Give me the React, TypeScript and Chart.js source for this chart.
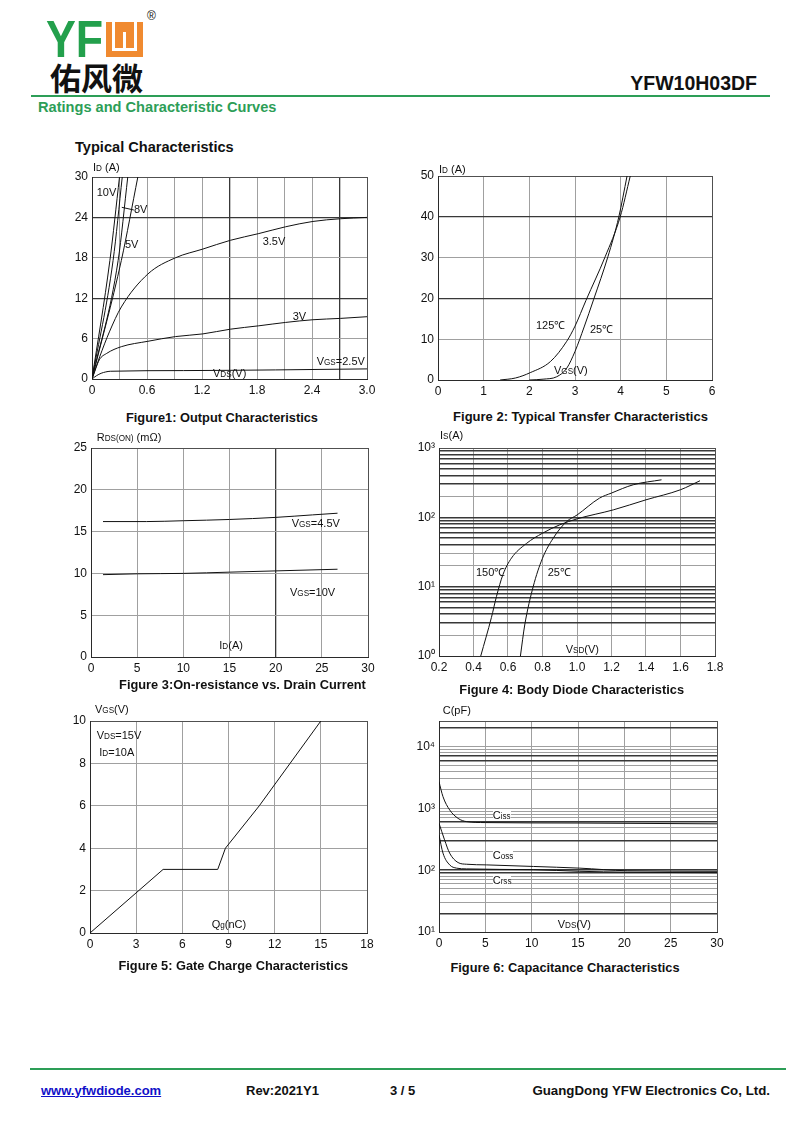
import React, { useEffect, useRef } from 'react';
import { Chart, registerables } from 'chart.js';

Chart.register(...registerables);

const FONT = '"Liberation Sans", Arial, Helvetica, sans-serif';
const CJK = '"Noto Sans CJK SC", "Noto Sans CJK TC", sans-serif';

type Pt = [number, number];

// ---------- Figure 1: Output Characteristics ----------
const f1XTicks = [0, 0.3, 0.6, 0.9, 1.2, 1.5, 1.8, 2.1, 2.4, 2.7, 3.0];
const f1XLabelVals = [0, 0.6, 1.2, 1.8, 2.4, 3.0];
const f1XLabels = ['0', '0.6', '1.2', '1.8', '2.4', '3.0'];
const f1YTicks = [0, 6, 12, 18, 24, 30];
const f1YLabels = ['0', '6', '12', '18', '24', '30'];
const f1XDark = [1.5, 2.7];
const f1YDark = [12, 24];
const f1Vgs10: Pt[] = [[0, 0], [0.195, 17.6], [0.30, 30]];
const f1Vgs8a: Pt[] = [[0, 0], [0.23, 17.6], [0.33, 30]];
const f1Vgs8b: Pt[] = [[0, 0], [0.285, 17.6], [0.39, 30]];
const f1Vgs5: Pt[] = [[0, 0], [0.32, 17.6], [0.50, 30]];
const f1Vgs35: Pt[] = [[0, 0], [0.084, 3.3], [0.19, 7.0], [0.32, 10.7], [0.61, 15.6], [0.91, 18.0], [1.21, 19.3], [1.51, 20.6], [1.82, 21.6], [2.11, 22.6], [2.41, 23.4], [2.71, 23.8], [3.0, 24.0]];
const f1Vgs3: Pt[] = [[0, 0], [0.08, 2.85], [0.16, 3.8], [0.32, 4.8], [0.61, 5.6], [0.91, 6.3], [1.21, 6.7], [1.51, 7.4], [1.82, 7.9], [2.11, 8.4], [2.41, 8.8], [2.71, 9.0], [3.0, 9.25]];
const f1Vgs25: Pt[] = [[0, 0], [0.05, 0.5], [0.1, 0.85], [0.15, 1.05], [0.2, 1.15], [1.0, 1.25], [2.0, 1.35], [3.0, 1.5]];
const f1Leader8V: Pt[] = [[0.325, 25.5], [0.456, 25.1]];

// ---------- Figure 2: Transfer Characteristics ----------
const f2XTicks = [0, 1, 2, 3, 4, 5, 6];
const f2XLabels = ['0', '1', '2', '3', '4', '5', '6'];
const f2YTicks = [0, 10, 20, 30, 40, 50];
const f2YLabels = ['0', '10', '20', '30', '40', '50'];
const f2YDark = [20, 40];
const f2T125: Pt[] = [[1.36, 0], [1.7, 0.5], [2.02, 1.8], [2.46, 4.5], [2.82, 9.5], [3.0, 13.2], [3.24, 19.5], [3.66, 30.2], [3.99, 40], [4.21, 50]];
const f2T25: Pt[] = [[2.0, 0], [2.3, 0.2], [2.6, 0.8], [2.82, 2.9], [3.0, 7.0], [3.2, 13.0], [3.41, 19.8], [3.72, 30.2], [3.96, 40], [4.14, 50]];

// ---------- Figure 3: On-resistance vs Drain Current ----------
const f3XTicks = [0, 5, 10, 15, 20, 25, 30];
const f3XLabels = ['0', '5', '10', '15', '20', '25', '30'];
const f3YTicks = [0, 5, 10, 15, 20, 25];
const f3YLabels = ['0', '5', '10', '15', '20', '25'];
const f3XDark = [20];
const f3Vgs45: Pt[] = [[1.3, 16.2], [6, 16.2], [10, 16.3], [15, 16.45], [20, 16.7], [24, 17.0], [26.7, 17.2]];
const f3Vgs10: Pt[] = [[1.3, 9.85], [5, 9.95], [10, 10.0], [15, 10.15], [20, 10.3], [26.7, 10.5]];

// ---------- Figure 4: Body Diode ----------
const f4XTicks = [0.2, 0.4, 0.6, 0.8, 1.0, 1.2, 1.4, 1.6, 1.8];
const f4XLabels = ['0.2', '0.4', '0.6', '0.8', '1.0', '1.2', '1.4', '1.6', '1.8'];
const f4YTicks = [1, 2, 3, 4, 5, 6, 7, 8, 9, 10, 20, 30, 40, 50, 60, 70, 80, 90, 100, 200, 300, 400, 500, 600, 700, 800, 900, 1000];
const f4YLabelVals = [1, 10, 100, 1000];
const f4YLabels = ['10⁰', '10¹', '10²', '10³'];
const f4YLight = [2, 20, 30, 200];
const f4T150: Pt[] = [[0.442, 1], [0.504, 3.6], [0.533, 7.2], [0.571, 15], [0.62, 25.8], [0.707, 42], [0.8, 59], [0.9, 78], [1.0, 95], [1.21, 128], [1.4, 179], [1.6, 250], [1.713, 337]];
const f4T25: Pt[] = [[0.672, 1], [0.697, 2.8], [0.746, 10], [0.8, 25.7], [0.862, 50], [0.94, 87], [1.0, 108], [1.13, 189], [1.2, 224], [1.326, 295], [1.49, 348]];

// ---------- Figure 5: Gate Charge ----------
const f5XTicks = [0, 3, 6, 9, 12, 15, 18];
const f5XLabels = ['0', '3', '6', '9', '12', '15', '18'];
const f5YTicks = [0, 2, 4, 6, 8, 10];
const f5YLabels = ['0', '2', '4', '6', '8', '10'];
const f5Vgs: Pt[] = [[0, 0], [4.75, 3], [8.3, 3], [8.8, 4], [11, 6], [13, 8], [15, 10]];

// ---------- Figure 6: Capacitance ----------
const f6XTicks = [0, 5, 10, 15, 20, 25, 30];
const f6XLabels = ['0', '5', '10', '15', '20', '25', '30'];
const f6YTicks = [10, 20, 30, 40, 50, 60, 70, 80, 90, 100, 200, 300, 400, 500, 600, 700, 800, 900, 1000, 2000, 3000, 4000, 5000, 6000, 7000, 8000, 9000, 10000, 20000, 26000];
const f6YLabelVals = [10, 100, 1000, 10000];
const f6YLabels = ['10¹', '10²', '10³', '10⁴'];
const f6YDark = [20, 90, 100, 300, 600, 6000, 7000, 20000];
const f6Ciss: Pt[] = [[0, 2700], [0.43, 1550], [1.15, 946], [2.06, 690], [2.96, 612], [5, 590], [15, 580], [30, 563]];
const f6Coss: Pt[] = [[0, 576], [0.6, 310], [1.15, 189], [2.06, 133], [2.96, 125], [5.1, 122], [10.2, 115], [15.2, 108], [20.3, 98], [30, 96]];
const f6Crss: Pt[] = [[0, 372], [0.43, 189], [1.15, 122], [1.9, 108], [2.96, 105], [10.2, 102], [15.2, 96], [20.3, 93], [30, 91]];

// ---------- chart helper ----------
type AxisType = 'linear' | 'logarithmic';
interface Series { data: Pt[]; smooth: boolean }
interface Spec {
  l: number; t: number; r: number; b: number;
  xType: AxisType; yType: AxisType;
  xMin: number; xMax: number; yMin: number; yMax: number;
  xTicks: number[]; xLabelVals: number[]; xLabels: string[];
  yTicks: number[]; yLabelVals: number[]; yLabels: string[];
  xDark: number[]; yDark: number[]; yLight?: number[];
  darkByDefault?: boolean; darkWidth: number;
  series: Series[];
}

const GRID = '#a0a0a0';
const DARK = '#383838';
const EDGE = '#505050';
const PL = 44, PT = 8, PR = 18, PB = 24;

const near = (a: number, b: number) => Math.abs(a - b) <= 1e-7 * Math.max(1, Math.abs(a), Math.abs(b));

function ChartBox({ spec }: { spec: Spec }) {
  const ref = useRef<HTMLCanvasElement>(null);
  const w = spec.r - spec.l + PL + PR;
  const h = spec.b - spec.t + PT + PB;
  useEffect(() => {
    const mkAxis = (dir: 'x' | 'y') => {
      const isX = dir === 'x';
      const type = isX ? spec.xType : spec.yType;
      const ticks = isX ? spec.xTicks : spec.yTicks;
      const lv = isX ? spec.xLabelVals : spec.yLabelVals;
      const lb = isX ? spec.xLabels : spec.yLabels;
      const dark = isX ? spec.xDark : spec.yDark;
      const light = isX ? [] : (spec.yLight || []);
      const min = isX ? spec.xMin : spec.yMin;
      const max = isX ? spec.xMax : spec.yMax;
      const kind = (v: number) => {
        if (near(v, min) || near(v, max)) return 'edge';
        if (dark.some((d) => near(d, v))) return 'dark';
        if (light.some((d) => near(d, v))) return 'light';
        return spec.darkByDefault && !isX ? 'dark' : 'light';
      };
      return {
        type,
        min,
        max,
        position: isX ? 'bottom' : 'left',
        afterBuildTicks: (sc: any) => {
          sc.ticks = ticks.map((v) => ({ value: v }));
        },
        afterFit: (sc: any) => {
          if (isX) sc.height = PB; else sc.width = PL;
          sc.paddingLeft = 0; sc.paddingRight = 0; sc.paddingTop = 0; sc.paddingBottom = 0;
        },
        ticks: {
          autoSkip: false,
          maxRotation: 0,
          minRotation: 0,
          padding: 4,
          color: '#111',
          font: { family: FONT, size: 12 },
          callback: (v: any) => {
            const i = lv.findIndex((a) => near(a, Number(v)));
            return i >= 0 ? lb[i] : '';
          },
        },
        grid: {
          drawTicks: false,
          color: (c: any) => {
            const k = kind(c.tick ? c.tick.value : 0);
            return k === 'edge' ? EDGE : k === 'dark' ? DARK : GRID;
          },
          lineWidth: (c: any) => {
            const k = kind(c.tick ? c.tick.value : 0);
            return k === 'dark' ? spec.darkWidth : 1;
          },
        },
        border: { color: '#2a2a2a', width: 1 },
      };
    };
    const chart = new Chart(ref.current as HTMLCanvasElement, {
      type: 'scatter',
      data: {
        datasets: spec.series.map((s) => ({
          data: s.data.map(([x, y]) => ({ x, y })),
          showLine: true,
          borderColor: '#111',
          borderWidth: 1,
          pointRadius: 0,
          fill: false,
          tension: 0,
          cubicInterpolationMode: s.smooth ? 'monotone' : 'default',
        })),
      } as any,
      options: {
        animation: false,
        responsive: false,
        maintainAspectRatio: false,
        events: [],
        layout: { padding: { top: PT, right: PR, left: 0, bottom: 0 } },
        plugins: { legend: { display: false }, tooltip: { enabled: false } },
        scales: { x: mkAxis('x'), y: mkAxis('y') } as any,
      },
    });
    return () => chart.destroy();
  }, []);
  return (
    <canvas
      ref={ref}
      width={w}
      height={h}
      style={{ position: 'absolute', left: spec.l - PL, top: spec.t - PT, width: w, height: h }}
    />
  );
}

const spec1: Spec = {
  l: 92, t: 177, r: 367, b: 379, xType: 'linear', yType: 'linear',
  xMin: 0, xMax: 3, yMin: 0, yMax: 30,
  xTicks: f1XTicks, xLabelVals: f1XLabelVals, xLabels: f1XLabels,
  yTicks: f1YTicks, yLabelVals: f1YTicks, yLabels: f1YLabels,
  xDark: f1XDark, yDark: f1YDark, darkWidth: 1.3,
  series: [f1Vgs10, f1Vgs8a, f1Vgs8b, f1Vgs5, f1Vgs35, f1Vgs3, f1Vgs25].map((d) => ({ data: d, smooth: true })).concat([{ data: f1Leader8V, smooth: false }]),
};
const spec2: Spec = {
  l: 438, t: 176, r: 712, b: 380, xType: 'linear', yType: 'linear',
  xMin: 0, xMax: 6, yMin: 0, yMax: 50,
  xTicks: f2XTicks, xLabelVals: f2XTicks, xLabels: f2XLabels,
  yTicks: f2YTicks, yLabelVals: f2YTicks, yLabels: f2YLabels,
  xDark: [], yDark: f2YDark, darkWidth: 1.3,
  series: [{ data: f2T125, smooth: true }, { data: f2T25, smooth: true }],
};
const spec3: Spec = {
  l: 91, t: 448, r: 368, b: 657, xType: 'linear', yType: 'linear',
  xMin: 0, xMax: 30, yMin: 0, yMax: 25,
  xTicks: f3XTicks, xLabelVals: f3XTicks, xLabels: f3XLabels,
  yTicks: f3YTicks, yLabelVals: f3YTicks, yLabels: f3YLabels,
  xDark: f3XDark, yDark: [], darkWidth: 1.3,
  series: [{ data: f3Vgs45, smooth: true }, { data: f3Vgs10, smooth: true }],
};
const spec4: Spec = {
  l: 439, t: 448, r: 715, b: 656, xType: 'linear', yType: 'logarithmic',
  xMin: 0.2, xMax: 1.8, yMin: 1, yMax: 1000,
  xTicks: f4XTicks, xLabelVals: f4XTicks, xLabels: f4XLabels,
  yTicks: f4YTicks, yLabelVals: f4YLabelVals, yLabels: f4YLabels,
  xDark: [], yDark: [], yLight: f4YLight, darkByDefault: true, darkWidth: 1.6,
  series: [{ data: f4T150, smooth: true }, { data: f4T25, smooth: true }],
};
const spec5: Spec = {
  l: 90, t: 721, r: 367, b: 933, xType: 'linear', yType: 'linear',
  xMin: 0, xMax: 18, yMin: 0, yMax: 10,
  xTicks: f5XTicks, xLabelVals: f5XTicks, xLabels: f5XLabels,
  yTicks: f5YTicks, yLabelVals: f5YTicks, yLabels: f5YLabels,
  xDark: [], yDark: [], darkWidth: 1.3,
  series: [{ data: f5Vgs, smooth: false }],
};
const spec6: Spec = {
  l: 439, t: 721, r: 717, b: 932, xType: 'linear', yType: 'logarithmic',
  xMin: 0, xMax: 30, yMin: 10, yMax: 26000,
  xTicks: f6XTicks, xLabelVals: f6XTicks, xLabels: f6XLabels,
  yTicks: f6YTicks, yLabelVals: f6YLabelVals, yLabels: f6YLabels,
  xDark: [], yDark: f6YDark, darkWidth: 1.6,
  series: [{ data: f6Ciss, smooth: true }, { data: f6Coss, smooth: true }, { data: f6Crss, smooth: true }],
};

// ---------- text helpers ----------
interface TP {
  x: number; y: number; s?: number; b?: boolean; c?: string; bg?: string;
  align?: 'left' | 'center' | 'right'; f?: string; children: React.ReactNode;
}
function T({ x, y, s = 11, b = false, c = '#111', bg, align = 'left', f = FONT, children }: TP) {
  const st: React.CSSProperties = {
    position: 'absolute', top: y, fontSize: s, fontWeight: b ? 'bold' : 'normal', color: c,
    fontFamily: f, lineHeight: 1, whiteSpace: 'nowrap', background: bg,
  };
  if (align === 'left') st.left = x;
  if (align === 'right') st.right = 800 - x;
  if (align === 'center') { st.left = x; st.transform = 'translateX(-50%)'; }
  return <div style={st}>{children}</div>;
}
const S = ({ children }: { children: React.ReactNode }) => <span style={{ fontSize: '0.74em' }}>{children}</span>;

export default function App() {
  return (
    <div style={{ position: 'absolute', left: 0, top: 0, width: 800, height: 1130, background: '#fff', overflow: 'hidden' }}>
      {/* Logo */}
      <div style={{ position: 'absolute', left: 46, top: 13, fontFamily: FONT, fontWeight: 'bold', fontSize: 52, lineHeight: '52px', color: '#23a04c', transform: 'scaleX(0.86)', transformOrigin: 'left top' }}>YF</div>
      <div style={{ position: 'absolute', left: 106, top: 22, width: 37, height: 35, background: '#f08a30' }}>
        <div style={{ position: 'absolute', left: 6, top: 0, width: 3, height: 29, background: '#fff' }} />
        <div style={{ position: 'absolute', left: 17, top: 10, width: 3, height: 19, background: '#fff' }} />
        <div style={{ position: 'absolute', left: 28, top: 0, width: 3, height: 29, background: '#fff' }} />
        <div style={{ position: 'absolute', left: 6, top: 26, width: 25, height: 3, background: '#fff' }} />
      </div>
      <T x={147} y={10} s={12}>®</T>
      <T x={50} y={61} s={31} b f={CJK}>佑风微</T>
      <T x={757} y={73.5} s={19.5} b align="right">YFW10H03DF</T>
      <div style={{ position: 'absolute', left: 31, top: 95, width: 739, height: 2, background: '#2d9e57' }} />
      <T x={38} y={100} s={14.6} b c="#2d9e57">Ratings and Characteristic Curves</T>
      <T x={75} y={140} s={14.6} b>Typical Characteristics</T>

      <ChartBox spec={spec1} />
      <ChartBox spec={spec2} />
      <ChartBox spec={spec3} />
      <ChartBox spec={spec4} />
      <ChartBox spec={spec5} />
      <ChartBox spec={spec6} />

      {/* Figure 1 labels */}
      <T x={93} y={162}>I<S>D</S> (A)</T>
      <T x={96.7} y={187}>10V</T>
      <T x={134} y={204}>8V</T>
      <T x={125} y={239}>5V</T>
      <T x={262.7} y={236}>3.5V</T>
      <T x={292.7} y={310.5}>3V</T>
      <T x={316.7} y={355.5}>V<S>GS</S>=2.5V</T>
      <T x={213} y={367.5}>V<S>DS</S>(V)</T>
      <T x={222} y={411.5} s={12.8} b align="center">Figure1: Output Characteristics</T>

      {/* Figure 2 labels */}
      <T x={439} y={163.5}>I<S>D</S> (A)</T>
      <T x={536} y={320}>125℃</T>
      <T x={590} y={323.5}>25℃</T>
      <T x={554} y={365}>V<S>GS</S>(V)</T>
      <T x={580.5} y={410} s={13} b align="center">Figure 2: Typical Transfer Characteristics</T>

      {/* Figure 3 labels */}
      <T x={96.7} y={432}>R<S>DS(ON)</S> (mΩ)</T>
      <T x={291.7} y={518}>V<S>GS</S>=4.5V</T>
      <T x={290} y={587}>V<S>GS</S>=10V</T>
      <T x={219.3} y={640}>I<S>D</S>(A)</T>
      <T x={242.5} y={678.5} s={12.8} b align="center">Figure 3:On-resistance vs. Drain Current</T>

      {/* Figure 4 labels */}
      <T x={440} y={430}>I<S>S</S>(A)</T>
      <T x={476} y={567}>150℃</T>
      <T x={547.7} y={567}>25℃</T>
      <T x={565.7} y={643.5}>V<S>SD</S>(V)</T>
      <T x={571.7} y={683.5} s={12.8} b align="center">Figure 4: Body Diode Characteristics</T>

      {/* Figure 5 labels */}
      <T x={95} y={703.5}>V<S>GS</S>(V)</T>
      <T x={96.7} y={730}>V<S>DS</S>=15V</T>
      <T x={99.3} y={747}>I<S>D</S>=10A</T>
      <T x={211.7} y={918.5}>Q<S>g</S>(nC)</T>
      <T x={233.3} y={960} s={12.8} b align="center">Figure 5: Gate Charge Characteristics</T>

      {/* Figure 6 labels */}
      <T x={442.7} y={705}>C(pF)</T>
      <T x={492.7} y={810} bg="#fff">C<S>iss</S></T>
      <T x={492.7} y={850} bg="#fff">C<S>oss</S></T>
      <T x={492.7} y={875} bg="#fff">C<S>rss</S></T>
      <T x={557.7} y={918.5}>V<S>DS</S>(V)</T>
      <T x={565} y={962} s={12.8} b align="center">Figure 6: Capacitance Characteristics</T>

      {/* Footer */}
      <div style={{ position: 'absolute', left: 30, top: 1068, width: 756, height: 2, background: '#2d9e57' }} />
      <T x={41} y={1083.5} s={13} b c="#1010c8"><span style={{ textDecoration: 'underline' }}>www.yfwdiode.com</span></T>
      <T x={246} y={1083.5} s={13} b>Rev:2021Y1</T>
      <T x={390} y={1083.5} s={13} b>3 / 5</T>
      <T x={770} y={1083.5} s={13.3} b align="right">GuangDong YFW Electronics Co, Ltd.</T>
    </div>
  );
}
